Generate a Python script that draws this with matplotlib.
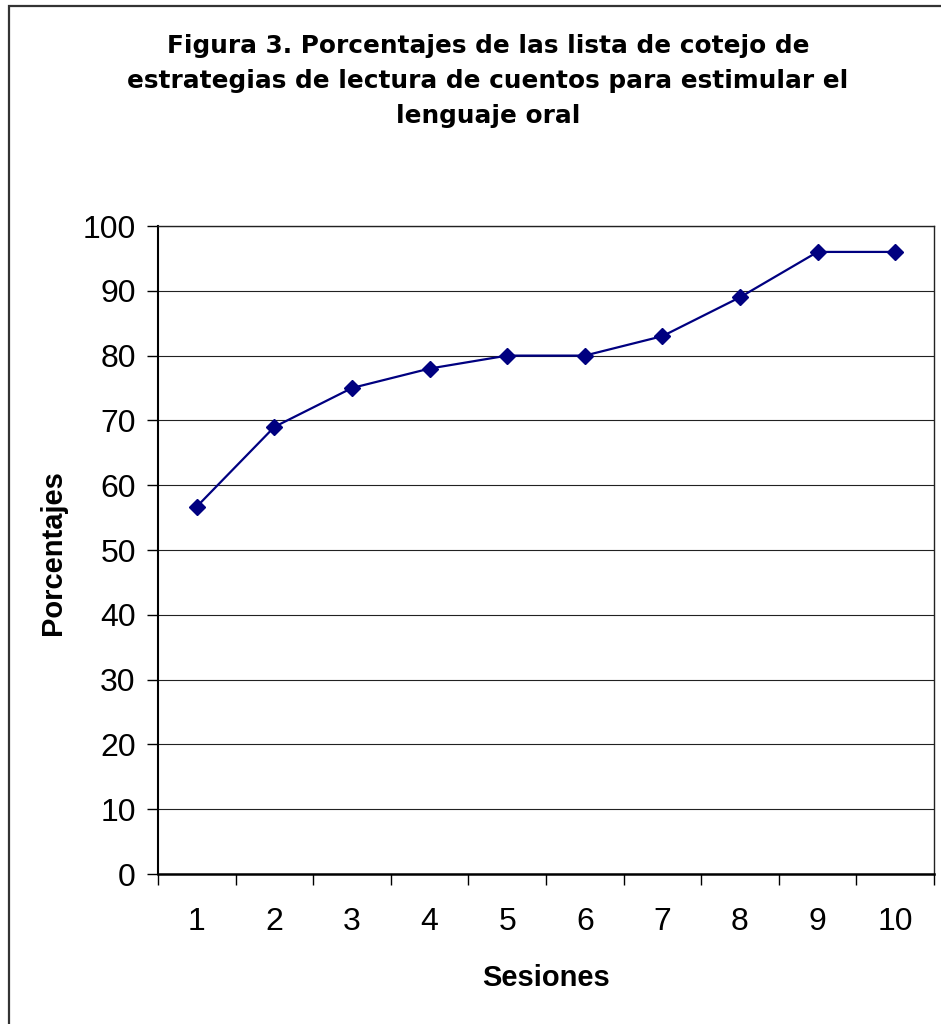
import matplotlib
matplotlib.use("Agg")
import matplotlib.pyplot as plt
from matplotlib.patches import Rectangle
from matplotlib.ticker import MultipleLocator, FixedLocator, NullFormatter

plt.rcParams['font.family'] = ['Liberation Sans', 'DejaVu Sans']

# Session numbers and checklist percentages
sesiones = [1, 2, 3, 4, 5, 6, 7, 8, 9, 10]
porcentajes = [56.7, 69, 75, 78, 80, 80, 83, 89, 96, 96]

titulo = ("Figura 3. Porcentajes de las lista de cotejo de\n"
          "estrategias de lectura de cuentos para estimular el\n"
          "lenguaje oral")

W, H = 941, 1024
fig = plt.figure(figsize=(W / 100, H / 100), dpi=100)

# outer chart border (runs off the right and bottom edges)
fig.add_artist(Rectangle((8.5 / W, -0.05), 1.2, 1 - 5.5 / H + 0.05,
                         transform=fig.transFigure, fill=False,
                         edgecolor='#333333', linewidth=1.6))

left, right, top, bottom = 158, 934, 226, 874
ax = fig.add_axes([left / W, 1 - bottom / H, (right - left) / W, (bottom - top) / H])

ax.plot(sesiones, porcentajes, color='#000080', linewidth=1.6,
        marker='D', markersize=8.5, markerfacecolor='#000080',
        markeredgecolor='#000080', zorder=3)

ax.set_xlim(0.5, 10.5)
ax.set_ylim(0, 100)

ax.yaxis.set_major_locator(MultipleLocator(10))
ax.grid(axis='y', color='#222222', linewidth=0.8)
ax.set_axisbelow(True)

# category ticks sit between sessions; labels centred on each session
ax.xaxis.set_major_locator(FixedLocator([x + 0.5 for x in [0] + sesiones]))
ax.xaxis.set_major_formatter(NullFormatter())
ax.set_xticks(sesiones, [str(s) for s in sesiones], minor=True)
ax.tick_params(axis='x', which='major', direction='out', length=8, width=1, color='black')
ax.tick_params(axis='x', which='minor', length=0, pad=24, labelsize=23)
ax.tick_params(axis='y', direction='out', length=8, width=1, pad=8, labelsize=23)

for name, sp in ax.spines.items():
    sp.set_color('#222222')
    sp.set_linewidth(1.0)
ax.spines['left'].set_color('black')
ax.spines['bottom'].set_color('black')
ax.spines['left'].set_linewidth(1.5)
ax.spines['bottom'].set_linewidth(1.8)

fig.text(488 / W, 1 - 81 / H, titulo, ha='center', va='center',
         fontsize=17.8, fontweight='bold', linespacing=1.6,
         family=['DejaVu Sans'])

fig.text(53 / W, 1 - 553 / H, "Porcentajes", rotation=90, ha='center', va='center',
         fontsize=21, fontweight='bold')
fig.text(546 / W, 1 - 978 / H, "Sesiones", ha='center', va='center',
         fontsize=21, fontweight='bold')

fig.savefig("out.png", dpi=100)
